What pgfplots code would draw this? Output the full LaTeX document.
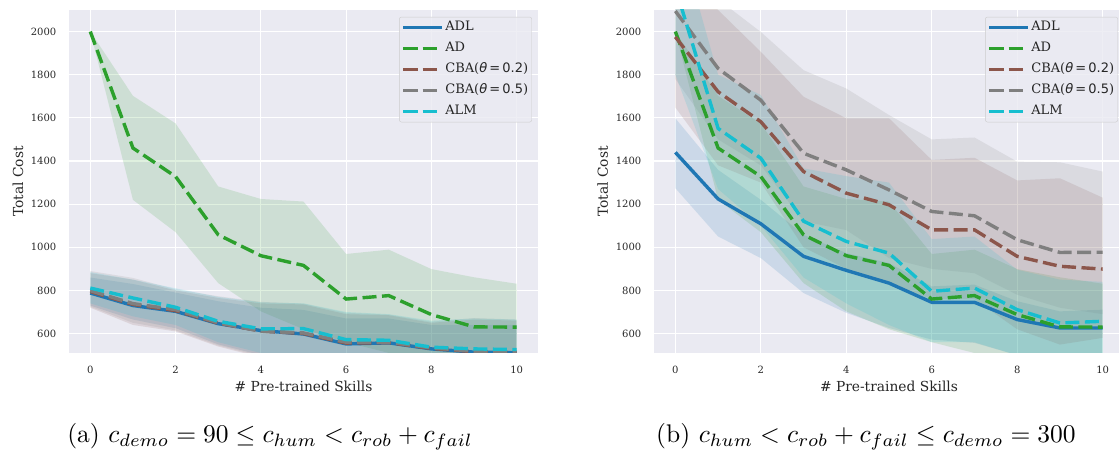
\documentclass[border=0pt]{standalone}
\usepackage{fontspec}
\usepackage{graphicx}
\usepackage{pgfplots}
\usepackage{pgfplotstable}
\pgfplotsset{compat=1.18}
\newfontfamily\dvs{DejaVu Serif}
\newfontfamily\dvsans{DejaVu Sans}
\definecolor{bgc}{HTML}{EAEAF2}
\definecolor{tc}{HTML}{262626}
\definecolor{legc}{HTML}{CCCCCC}
\definecolor{cADL}{HTML}{1F77B4}
\definecolor{cAD}{HTML}{2CA02C}
\definecolor{cCBAa}{HTML}{8C564B}
\definecolor{cCBAb}{HTML}{7F7F7F}
\definecolor{cALM}{HTML}{17BECF}

% ---------- data (a) ----------
\pgfplotstableread{
x ADL AD CBAa CBAb ALM
0 788 2000 795 799 811
1 730 1460 735 739 765
2 703 1328 706 711 722
3 646 1058 648 650 657
4 614 961 612 611 622
5 598 916 600 603 623
6 552 760 556 560 572
7 557 776 558 560 569
8 529 688 531 534 537
9 514 631 516 518 529
10 511 630 512 514 526
}\dataA
% ---------- data (b) ----------
\pgfplotstableread{
x ADL AD CBAa CBAb ALM
0 1440 2000 1975 2095 2205
1 1224 1460 1721 1829 1551
2 1109 1328 1582 1682 1413
3 958 1058 1351 1436 1121
4 893 961 1251 1359 1027
5 834 916 1197 1266 973
6 745 760 1081 1166 796
7 745 776 1081 1146 811
8 665 688 958 1035 711
9 626 631 912 976 649
10 626 630 899 977 657
}\dataB

\pgfplotsset{
  mystyle/.style={
    scale only axis, height=343pt,
    ymin=510, ymax=2100,
    axis background/.style={fill=bgc},
    axis line style={draw=none},
    major tick length=0pt,
    grid=major, major grid style={white, line width=1.1pt},
    xtick={0,2,...,10}, ytick={600,800,...,2000},
    /pgf/number format/assume math mode=true,
    /pgf/number format/set thousands separator={},
    tick label style={font=\dvs\fontsize{10}{11}\selectfont, text=tc},
    xticklabel style={anchor=north, inner sep=0pt, yshift=-13pt},
    yticklabel style={anchor=east, inner sep=0pt, xshift=-12.5pt},
    label style={font=\dvs\fontsize{13.8}{15}\selectfont, text=tc},
    xlabel={\# Pre-trained Skills},
    ylabel={Total Cost},
    xlabel style={at={(axis description cs:0.5,-0.096)}, anchor=center},
    ylabel style={at={(axis description cs:-0.109,0.5)}, anchor=center},
    legend style={anchor=north east, fill=bgc, fill opacity=0.8, text opacity=1,
      draw=legc, rounded corners=2pt, font=\dvs\fontsize{13}{14}\selectfont,
      text=tc, inner xsep=2pt, inner ysep=3pt, row sep=6pt,
      nodes={inner sep=1.5pt, text height=9.3pt, text depth=2.7pt},
      cells={anchor=west}},
    legend image code/.code={\path (-1pt,0pt) -- (38pt,0pt);\draw[##1] (0pt,0pt) -- (30pt,0pt);},
    band/.style={draw=none, fill=##1, fill opacity=0.15, forget plot},
    sol/.style={##1, line width=3.4pt},
    dsh/.style={##1, line width=3.4pt, dash pattern=on 14pt off 5.5pt},
  }
}
\newcommand{\cbalabel}[1]{CBA({\dvsans\itshape θ}\,{\dvsans =\,#1})}

\begin{document}
\begin{tikzpicture}
\useasboundingbox (0,0) rectangle (1119pt,452pt);
% ---------------- (a) ----------------
\begin{axis}[mystyle, at={(69pt,99pt)}, anchor=south west, width=469pt,
  xmin=-0.5, xmax=10.5, legend style={at={(0.987,0.98)}}]
\addplot[band=cADL] coordinates {(0,860)(1,830)(2,790)(3,750)(4,720)(5,710)(6,670)(7,670)(8,640)(9,640)(10,640)(10,390)(9,400)(8,420)(7,440)(6,440)(5,480)(4,500)(3,550)(2,625)(1,665)(0,730)};
\addplot[band=cAD] coordinates {(0,2000)(1,1702)(2,1574)(3,1282)(4,1224)(5,1212)(6,969)(7,989)(8,899)(9,861)(10,831)(10,440)(9,450)(8,480)(7,510)(6,560)(5,620)(4,703)(3,834)(2,1070)(1,1220)(0,2000)};
\addplot[band=cCBAa] coordinates {(0,880)(1,850)(2,800)(3,765)(4,740)(5,735)(6,690)(7,685)(8,650)(9,665)(10,660)(10,370)(9,380)(8,410)(7,430)(6,430)(5,470)(4,490)(3,540)(2,610)(1,640)(0,720)};
\addplot[band=cCBAb] coordinates {(0,890)(1,858)(2,805)(3,773)(4,747)(5,739)(6,696)(7,688)(8,655)(9,672)(10,665)(10,375)(9,385)(8,415)(7,435)(6,435)(5,475)(4,495)(3,545)(2,615)(1,650)(0,725)};
\addplot[band=cALM] coordinates {(0,885)(1,850)(2,810)(3,770)(4,745)(5,740)(6,700)(7,690)(8,660)(9,670)(10,665)(10,390)(9,400)(8,420)(7,450)(6,450)(5,500)(4,510)(3,560)(2,640)(1,680)(0,740)};
\addplot[sol=cADL] table[x=x,y=ADL]{\dataA};
\addlegendentry{ADL}
\addplot[dsh=cAD] table[x=x,y=AD]{\dataA};
\addlegendentry{AD}
\addplot[dsh=cCBAa] table[x=x,y=CBAa]{\dataA};
\addlegendentry{\cbalabel{0.2}}
\addplot[dsh=cCBAb] table[x=x,y=CBAb]{\dataA};
\addlegendentry{\cbalabel{0.5}}
\addplot[dsh=cALM] table[x=x,y=ALM]{\dataA};
\addlegendentry{ALM}
\end{axis}
% ---------------- (b) ----------------
\begin{axis}[mystyle, at={(654pt,99pt)}, anchor=south west, width=470pt,
  xmin=-0.5, xmax=10.5, legend style={at={(0.987,0.98)}}]
\addplot[band=cADL] coordinates {(0,1598)(1,1359)(2,1220)(3,1058)(4,973)(5,927)(6,819)(7,827)(8,750)(9,703)(10,711)(10,470)(9,470)(8,500)(7,557)(6,572)(5,626)(4,696)(3,788)(2,950)(1,1050)(0,1274)};
\addplot[band=cAD] coordinates {(0,2000)(1,1702)(2,1574)(3,1282)(4,1224)(5,1212)(6,969)(7,989)(8,899)(9,861)(10,831)(10,440)(9,450)(8,480)(7,510)(6,560)(5,620)(4,703)(3,834)(2,1070)(1,1220)(0,2000)};
\addplot[band=cCBAa] coordinates {(0,2300)(1,2100)(2,1906)(3,1698)(4,1598)(5,1598)(6,1405)(7,1415)(8,1310)(9,1320)(10,1230)(10,580)(9,549)(8,620)(7,760)(6,760)(5,830)(4,900)(3,1000)(2,1300)(1,1380)(0,1648)};
\addplot[band=cCBAb] coordinates {(0,2450)(1,2150)(2,1998)(3,1821)(4,1736)(5,1613)(6,1500)(7,1509)(8,1397)(9,1394)(10,1351)(10,690)(9,720)(8,780)(7,880)(6,900)(5,950)(4,1080)(3,1120)(2,1380)(1,1500)(0,1780)};
\addplot[band=cALM] coordinates {(0,2500)(1,1800)(2,1706)(3,1366)(4,1330)(5,1300)(6,1038)(7,1050)(8,896)(9,850)(10,840)(10,470)(9,480)(8,500)(7,560)(6,560)(5,640)(4,740)(3,860)(2,1100)(1,1270)(0,1800)};
\addplot[sol=cADL] table[x=x,y=ADL]{\dataB};
\addlegendentry{ADL}
\addplot[dsh=cAD] table[x=x,y=AD]{\dataB};
\addlegendentry{AD}
\addplot[dsh=cCBAa] table[x=x,y=CBAa]{\dataB};
\addlegendentry{\cbalabel{0.2}}
\addplot[dsh=cCBAb] table[x=x,y=CBAb]{\dataB};
\addlegendentry{\cbalabel{0.5}}
\addplot[dsh=cALM] table[x=x,y=ALM]{\dataB};
\addlegendentry{ALM}
\end{axis}
\node[anchor=base] at (270pt,9pt)
  {\scalebox{2.55}{(a) $c_{demo} = 90 \leq c_{hum} < c_{rob} + c_{fail}$}};
\node[anchor=base] at (866pt,9pt)
  {\scalebox{2.55}{(b) $c_{hum} < c_{rob} + c_{fail} \leq c_{demo} = 300$}};
\end{tikzpicture}
\end{document}
